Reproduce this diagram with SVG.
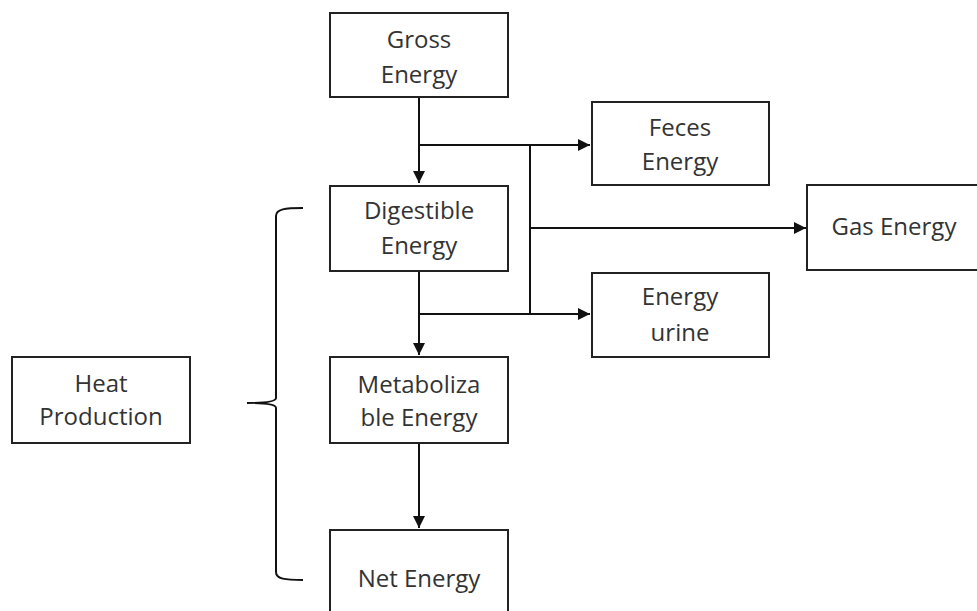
<svg xmlns="http://www.w3.org/2000/svg" width="977" height="611" viewBox="0 0 977 611">
<defs>
<marker id="arr" viewBox="0 0 12 12" refX="12" refY="6" markerWidth="12" markerHeight="12" markerUnits="userSpaceOnUse" orient="auto">
<path d="M0,0 L12,6 L0,12 Z" fill="#111"/>
</marker>
<style>
.box{fill:#fff;stroke:#222;stroke-width:2}
.t{font-family:"Open Sans","Liberation Sans",sans-serif;font-size:24px;fill:#333;text-anchor:middle}
.c{fill:none;stroke:#111;stroke-width:2}
</style>
</defs>
<rect width="977" height="611" fill="#fff"/>
<g id="connectors">
<path class="c" d="M419,97 V183" marker-end="url(#arr)"/>
<path class="c" d="M419,145 H590" marker-end="url(#arr)"/>
<path class="c" d="M530,145 V314"/>
<path class="c" d="M530,228 H806" marker-end="url(#arr)"/>
<path class="c" d="M419,271 V355" marker-end="url(#arr)"/>
<path class="c" d="M419,314 H590" marker-end="url(#arr)"/>
<path class="c" d="M419,443 V528" marker-end="url(#arr)"/>
<path class="c" d="M303,208 C285,208 276,209 276,216 V398 C276,401 268,403 247,403 C268,403 276,405 276,408 V572 C276,579 285,580 303,580" stroke-width="1.8"/>
</g>
<g id="gross"><rect class="box" x="330" y="13" width="178" height="84"/><text class="t" x="419" y="48">Gross</text><text class="t" x="419" y="83">Energy</text></g>
<g id="feces"><rect class="box" x="592" y="102" width="177" height="83"/><text class="t" x="680" y="136">Feces</text><text class="t" x="680" y="170">Energy</text></g>
<g id="gas"><rect class="box" x="807" y="185" width="180" height="85"/><text class="t" x="894" y="235">Gas Energy</text></g>
<g id="digestible"><rect class="box" x="330" y="186" width="178" height="85"/><text class="t" x="419" y="219">Digestible</text><text class="t" x="419" y="254">Energy</text></g>
<g id="urine"><rect class="box" x="592" y="273" width="177" height="84"/><text class="t" x="680" y="305">Energy</text><text class="t" x="680" y="341">urine</text></g>
<g id="metabolizable"><rect class="box" x="330" y="357" width="178" height="86"/><text class="t" x="419" y="393">Metaboliza</text><text class="t" x="419" y="426">ble Energy</text></g>
<g id="net"><rect class="box" x="330" y="530" width="178" height="90"/><text class="t" x="419" y="587">Net Energy</text></g>
<g id="heat"><rect class="box" x="12" y="357" width="178" height="86"/><text class="t" x="101" y="392">Heat</text><text class="t" x="101" y="425">Production</text></g>
</svg>
